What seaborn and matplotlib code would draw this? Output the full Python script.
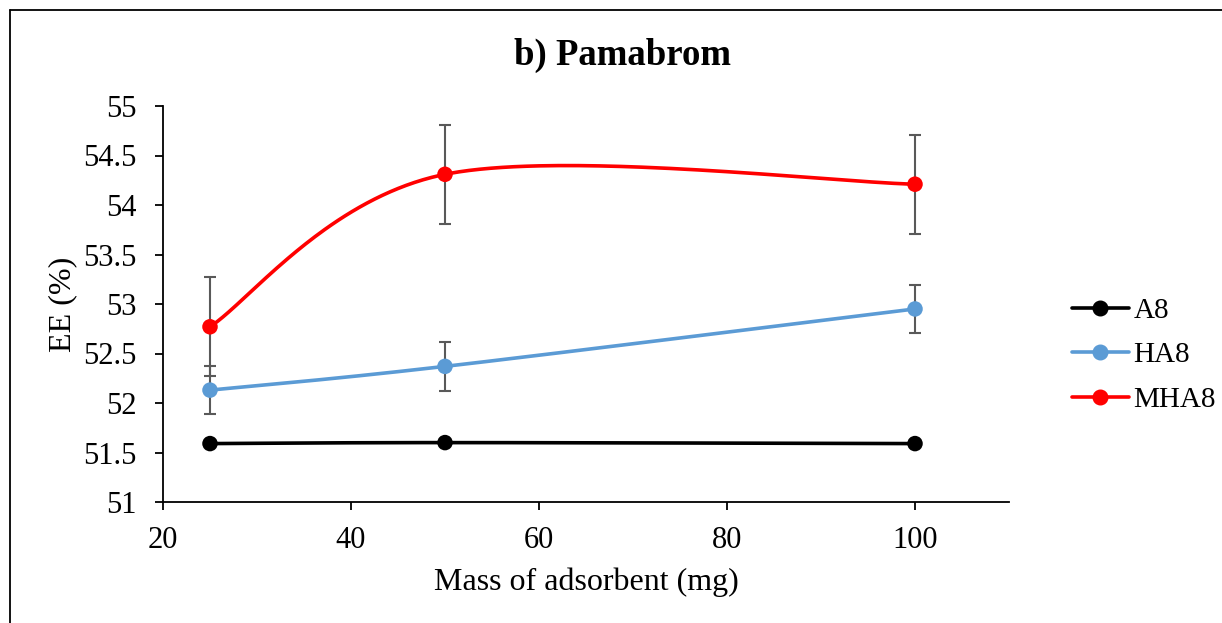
import numpy as np
import pandas as pd
import matplotlib
matplotlib.use("Agg")
import matplotlib.pyplot as plt
import seaborn as sns
from matplotlib.lines import Line2D

# ---- data ----
mass = [25, 50, 100]
a8 = [51.59, 51.60, 51.59]
ha8 = [52.13, 52.37, 52.95]
mha8 = [52.77, 54.31, 54.21]
ha8_err = [0.245, 0.245, 0.245]
mha8_err = [0.5, 0.5, 0.5]
series_names = ["A8", "HA8", "MHA8"]
series_colors = ["#000000", "#5B9BD5", "#FF0000"]
x_ticks = [20, 40, 60, 80, 100]
y_ticks = [51, 51.5, 52, 52.5, 53, 53.5, 54, 54.5, 55]
title = "b) Pamabrom"
x_label = "Mass of adsorbent (mg)"
y_label = "EE (%)"

sns.set_style("ticks")
plt.rcParams["font.family"] = ["Liberation Serif", "DejaVu Serif"]
plt.rcParams["text.color"] = "black"
plt.rcParams["axes.labelcolor"] = "black"
plt.rcParams["xtick.color"] = "black"
plt.rcParams["ytick.color"] = "black"


def excel_smooth(x, y, n=80):
    pts = np.column_stack([x, y]).astype(float)
    out = []
    for i in range(len(pts) - 1):
        p0 = pts[max(i - 1, 0)]
        p1 = pts[i]
        p2 = pts[i + 1]
        p3 = pts[min(i + 2, len(pts) - 1)]
        c1 = p1 + (p2 - p0) / 6.0
        c2 = p2 - (p3 - p1) / 6.0
        t = np.linspace(0, 1, n)[:, None]
        seg = (1 - t) ** 3 * p1 + 3 * (1 - t) ** 2 * t * c1 + 3 * (1 - t) * t ** 2 * c2 + t ** 3 * p2
        out.append(seg if i == 0 else seg[1:])
    return np.vstack(out)


values = [a8, ha8, mha8]
curve_frames = []
point_frames = []
for name, vals in zip(series_names, values):
    c = excel_smooth(mass, vals)
    curve_frames.append(pd.DataFrame({"x": c[:, 0], "y": c[:, 1], "series": name}))
    point_frames.append(pd.DataFrame({"x": mass, "y": vals, "series": name}))
curves = pd.concat(curve_frames, ignore_index=True)
points = pd.concat(point_frames, ignore_index=True)
palette = dict(zip(series_names, series_colors))

fig = plt.figure(figsize=(12.22, 6.23), dpi=100)
ax = fig.add_axes([163 / 1222, 1 - 502 / 623, (1009 - 163) / 1222, (502 - 106) / 623])

# error bars (behind)
ax.errorbar(mass, ha8, yerr=ha8_err, fmt="none", ecolor="#595959", elinewidth=1.5,
            capsize=4.5, capthick=1.5, zorder=1)
ax.errorbar(mass, mha8, yerr=mha8_err, fmt="none", ecolor="#595959", elinewidth=1.5,
            capsize=4.5, capthick=1.5, zorder=1)

sns.lineplot(data=curves, x="x", y="y", hue="series", palette=palette, sort=False,
             estimator=None, units="series", linewidth=2.6, legend=False, ax=ax, zorder=2)
sns.scatterplot(data=points, x="x", y="y", hue="series", palette=palette, s=125,
                edgecolor="none", legend=False, ax=ax, zorder=3)

ax.set_xlim(20, 110)
ax.set_ylim(51, 55)
ax.set_xticks(x_ticks)
ax.set_yticks(y_ticks)
ax.set_yticklabels([f"{v:g}" for v in y_ticks])
ax.tick_params(axis="both", labelsize=22, length=6, width=1.3, color="black", direction="out",
               labelcolor="black")
ax.tick_params(axis="y", pad=13)
ax.tick_params(axis="x", pad=11)
for s in ["top", "right"]:
    ax.spines[s].set_visible(False)
for s in ["left", "bottom"]:
    ax.spines[s].set_linewidth(1.3)
    ax.spines[s].set_color("black")

ax.set_xlabel(x_label, fontsize=23, labelpad=9, color="black")
ax.set_ylabel(y_label, fontsize=23, labelpad=4, color="black")
ax.set_title(title, fontsize=26.5, fontweight="bold", x=(622 - 163) / 846,
             y=(1 - 64 / 623 - (1 - 502 / 623)) / ((502 - 106) / 623), va="center", color="black")

handles = [Line2D([], [], color=c, marker="o", markersize=10.5, linewidth=2.6) for c in series_colors]
fig.legend(handles, series_names, loc="center left", bbox_to_anchor=(1072 / 1222, 1 - 355 / 623),
           frameon=False, fontsize=21, handlelength=1.95, handletextpad=0.15, labelspacing=0.62,
           borderpad=0, borderaxespad=0, labelcolor="black")

# outer frame (left and top edges)
fig.add_artist(Line2D([9.5 / 1222, 9.5 / 1222], [0, 1 - 10 / 623], transform=fig.transFigure,
                      color="black", linewidth=1.3))
fig.add_artist(Line2D([9.5 / 1222, 1], [1 - 10 / 623, 1 - 10 / 623], transform=fig.transFigure,
                      color="black", linewidth=1.3))

fig.savefig("out.png", dpi=100, facecolor="white")
